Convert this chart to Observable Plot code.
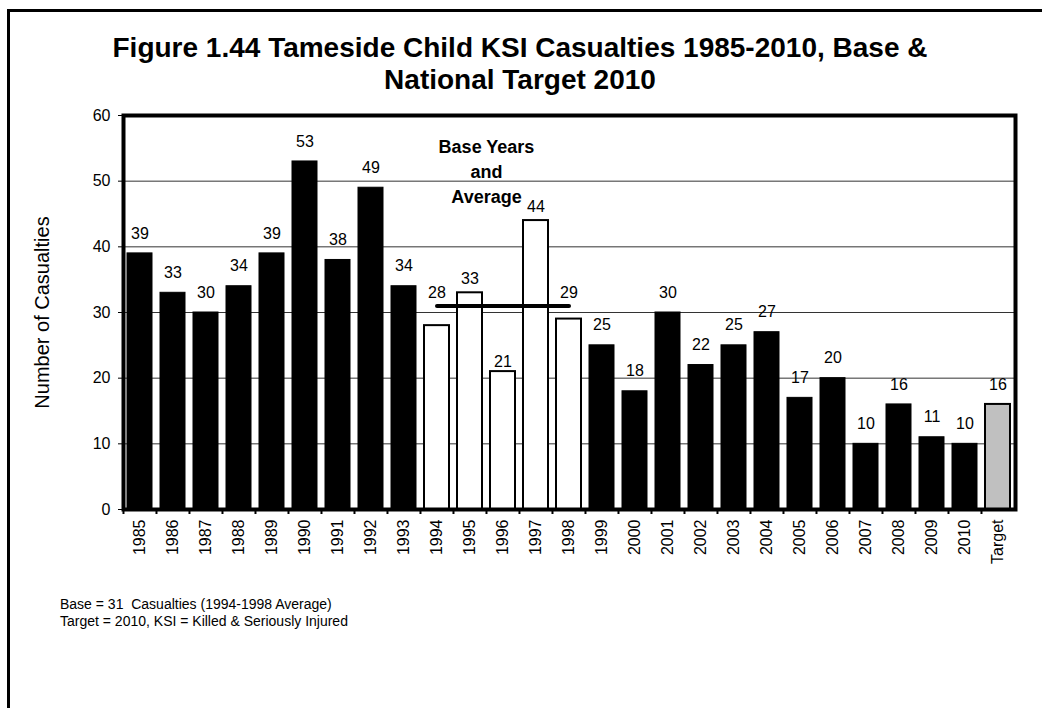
<!DOCTYPE html>
<html><head><meta charset="utf-8">
<script src="https://cdn.jsdelivr.net/npm/d3@7"></script>
<script src="https://cdn.jsdelivr.net/npm/@observablehq/plot@0.6"></script>
<style>
body{margin:0;background:#fff;font-family:Arial,"Liberation Sans",sans-serif;color:#000;}
#wrap{position:relative;width:1042px;height:708px;overflow:hidden;background:#fff;}
#border{position:absolute;left:7px;top:9px;width:1100px;height:800px;border-top:3px solid #000;border-left:3px solid #000;}
#title{position:absolute;top:32px;left:0;width:1040px;text-align:center;font-weight:bold;font-size:28px;line-height:32px;}
#chart{position:absolute;left:0;top:0;}
#notes{position:absolute;left:60px;top:596px;font-size:14px;line-height:17px;}
</style></head>
<body>
<div id="wrap">
  <div id="border"></div>
  <div id="chart"></div>
  <div id="title">Figure 1.44 Tameside Child KSI Casualties 1985-2010, Base &amp;<br>National Target 2010</div>
  <div id="notes">Base = 31&nbsp; Casualties (1994-1998 Average)<br>Target = 2010, KSI = Killed &amp; Seriously Injured</div>
</div>
<script>
// ---- data ----
const categories = ["1985","1986","1987","1988","1989","1990","1991","1992","1993","1994","1995","1996","1997","1998","1999","2000","2001","2002","2003","2004","2005","2006","2007","2008","2009","2010","Target"];
const casualties = [39,33,30,34,39,53,38,49,34,28,33,21,44,29,25,18,30,22,25,27,17,20,10,16,11,10,16];
const baseYears = ["1994","1995","1996","1997","1998"];
const baseAverage = 31;
const yTicks = [0,10,20,30,40,50,60];
const gridValues = [10,20,30,40,50];

// ---- build table ----
const rows = categories.map((c, i) => ({
  cat: c,
  value: casualties[i],
  kind: c === "Target" ? "target" : (baseYears.includes(c) ? "base" : "actual")
}));
const fills = {actual: "#000000", base: "#ffffff", target: "#c0c0c0"};
// label lift above bar top (px) for the hand-placed base-year labels
const labelLift = {"1994": 33, "1995": 14, "1996": 10, "1997": 14, "1998": 26};
const defaultLift = 20;

const W = 1042, H = 708;
const mL = 123, mR = 27, mT = 115, mB = 199;
const step = (W - mL - mR) / categories.length;

const labelMarks = [
  Plot.text(rows.filter(d => !(d.cat in labelLift)), {x: "cat", y: "value", text: d => String(d.value), lineAnchor: "middle", dy: -defaultLift, fontSize: 16}),
  ...Object.keys(labelLift).map(c =>
    Plot.text(rows.filter(d => d.cat === c), {x: "cat", y: "value", text: d => String(d.value), lineAnchor: "middle", dy: -labelLift[c], fontSize: 16}))
];

const chart = Plot.plot({
  width: W, height: H,
  marginLeft: mL, marginRight: mR, marginTop: mT, marginBottom: mB,
  style: {fontFamily: "Arial, 'Liberation Sans', sans-serif", fontSize: "16px", color: "#000", background: "transparent"},
  x: {type: "band", domain: categories, paddingInner: 0.24, paddingOuter: 0.12, align: 0.5},
  y: {domain: [0, 60]},
  marks: [
    Plot.ruleY(gridValues, {stroke: "#333", strokeWidth: 1}),
    Plot.barY(rows, {x: "cat", y: "value", fill: d => fills[d.kind], stroke: "#000", strokeWidth: d => d.kind === "actual" ? 1 : 2}),
    Plot.line(baseYears.map(c => ({cat: c, v: baseAverage})), {x: "cat", y: "v", stroke: "#000", strokeWidth: 4}),
    ...labelMarks,
    Plot.text(["Base Years\nand\nAverage"], {x: () => "1996", y: () => 51.7, dx: -step / 2, fontWeight: "bold", fontSize: 18, lineHeight: 1.4, lineAnchor: "middle"}),
    Plot.frame({stroke: "#000", strokeWidth: 4}),
    Plot.axisY({ticks: yTicks, tickSize: 5, tickPadding: 8, tickFormat: d => String(d), label: null, fontSize: 16}),
    Plot.axisX({tickSize: 0, tickPadding: 10, tickRotate: -90, label: null, fontSize: 16}),
    Plot.ruleX(categories, {x: d => d, y1: 0, y2: 0, insetBottom: -5, dx: -step / 2, stroke: "#000", strokeWidth: 2}),
    Plot.text(["Number of Casualties"], {frameAnchor: "left", dx: -81, rotate: -90, textAnchor: "middle", fontSize: 20})
  ]
});
document.getElementById("chart").appendChild(chart);
</script>
</body></html>
